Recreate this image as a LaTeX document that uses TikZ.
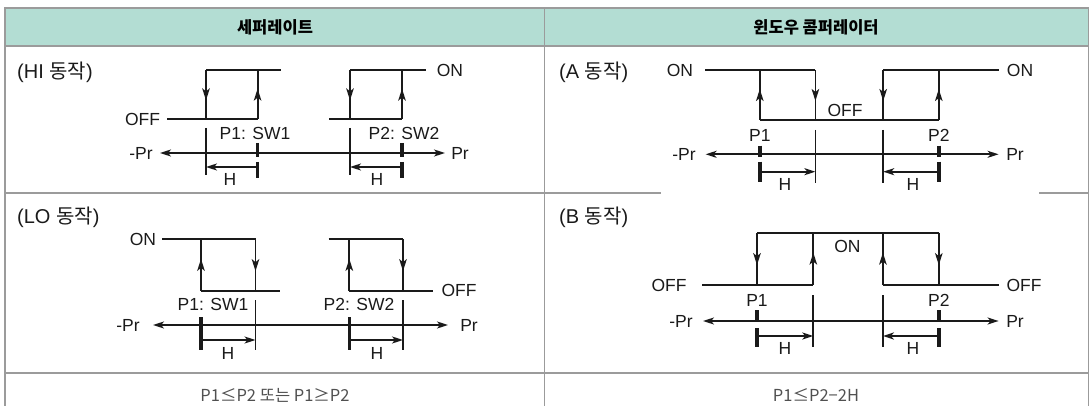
\documentclass[tikz,border=0pt]{standalone}
\usepackage{fontspec}
\setmainfont{Liberation Sans}
\newfontfamily\krfont{Noto Sans CJK KR}
\usetikzlibrary{arrows.meta, decorations.markings}
\definecolor{hdrteal}{HTML}{B3DDD3}
\definecolor{rulegray}{HTML}{9B9B9B}
\definecolor{ink}{HTML}{1A1A1A}
\definecolor{capgray}{HTML}{505050}

\begin{document}
\begin{tikzpicture}[
  x=1pt, y=-1pt,
  hyst/.tip={Stealth[length=11pt, width=7pt, inset=3pt]},
  midtip/.tip={Stealth[length=12pt, width=7.5pt, inset=3pt]},
  >=hyst,
  rule/.style={draw=rulegray, line width=1.4pt},
  hdr/.style={inner sep=0pt, font=\krfont\bfseries\fontsize{16.5}{19}\selectfont, text=black},
  ttl/.style={anchor=west, inner sep=0pt, font=\fontsize{20}{23}\selectfont, text=ink},
  lbl/.style={inner sep=0pt, font=\fontsize{17.5}{20}\selectfont, text=ink},
  captxt/.style={inner sep=0pt, font=\krfont\fontsize{16.5}{19}\selectfont, text=capgray},
  wire/.style={color=ink, line width=1.8pt},
  axis/.style={wire, <->},
  dim/.style={wire, ->},
  ptick/.style={color=ink, line width=3.5pt},
  flow/.style={wire, postaction={decorate},
    decoration={markings, mark=at position #1 with {\arrow{midtip}}}},
  flow/.default=0.62
]
  \useasboundingbox (0,0) rectangle (1090,406);

  \fill[hdrteal] (5,8) rectangle (1088.5,46);
  \draw[rule] (5,406) -- (5,8) -- (1088.5,8) -- (1088.5,406);
  \draw[rule] (5,46) -- (1088.5,46);
  \draw[rule] (544.5,8) -- (544.5,406);
  \draw[rule] (5,193) -- (661,193);
  \draw[rule] (1039,193) -- (1088.5,193);
  \draw[rule] (5,373) -- (1088.5,373);

  \node[hdr] (sephdr) at (275,27) {세퍼레이트};
  \node[hdr] (winhdr) at (816,27) {윈도우 콤퍼레이터};

  % HI
  \node[ttl] (hititle) at (17,72) {(HI {\krfont 동작})};
  \draw[wire] (167,119) -- (257.6,119);
  \draw[flow] (257.6,119) -- (257.6,70);
  \draw[wire] (206,70) -- (281,70);
  \draw[flow] (206,70) -- (206,119);
  \draw[wire] (329,119) -- (402,119);
  \draw[flow] (402,119) -- (402,70);
  \draw[wire] (350,70) -- (426,70);
  \draw[flow] (350,70) -- (350,119);
  \draw[axis] (160,153) -- (445,153);
  \draw[wire] (206,128) -- (206,175);
  \draw[wire] (350,128) -- (350,175);
  \draw[ptick] (257.6,143) -- (257.6,157) (257.6,162) -- (257.6,178);
  \draw[ptick] (402,143) -- (402,157) (402,162) -- (402,178);
  \draw[dim] (257.6,167) -- (206,167);
  \draw[dim] (402,167) -- (350,167);
  \node[lbl] (hioff) at (142.5,119) {OFF};
  \node[lbl] (hion) at (450,70) {ON};
  \node[lbl] (hip1) at (255,133) {P1: SW1};
  \node[lbl] (hip2) at (404,133) {P2: SW2};
  \node[lbl] (hineg) at (141,153) {-Pr};
  \node[lbl] (hipos) at (460,153) {Pr};
  \node[lbl] (hih1) at (230,179) {H};
  \node[lbl] (hih2) at (377,179) {H};

  % LO
  \node[ttl] (lotitle) at (17,217) {(LO {\krfont 동작})};
  \draw[wire] (162,239.3) -- (255.5,239.3);
  \draw[flow] (255.5,239.3) -- (255.5,290.7);
  \draw[wire] (201,290.7) -- (280,290.7);
  \draw[flow] (201,290.7) -- (201,239.3);
  \draw[wire] (328.5,239.3) -- (403,239.3);
  \draw[flow] (403,239.3) -- (403,290.7);
  \draw[wire] (349.3,290.7) -- (432.7,290.7);
  \draw[flow] (349.3,290.7) -- (349.3,239.3);
  \draw[axis] (153,325) -- (448,325);
  \draw[wire] (255.5,300) -- (255.5,350);
  \draw[wire] (403,300) -- (403,350);
  \draw[ptick] (201,317) -- (201,350);
  \draw[ptick] (349.3,317) -- (349.3,350);
  \draw[dim] (201,340) -- (255.5,340);
  \draw[dim] (349.3,340) -- (403,340);
  \node[lbl] (loon) at (143,239.3) {ON};
  \node[lbl] (looff) at (459,290.7) {OFF};
  \node[lbl] (lop1) at (213,304) {P1: SW1};
  \node[lbl] (lop2) at (359,304) {P2: SW2};
  \node[lbl] (loneg) at (128,325) {-Pr};
  \node[lbl] (lopos) at (469,325) {Pr};
  \node[lbl] (loh1) at (228,353) {H};
  \node[lbl] (loh2) at (377,353) {H};

  % A
  \node[ttl] (atitle) at (559,72) {(A {\krfont 동작})};
  \draw[wire] (705,70) -- (815.4,70);
  \draw[flow] (815.4,70) -- (815.4,120);
  \draw[wire] (759.8,120) -- (938.8,120);
  \draw[flow] (759.8,120) -- (759.8,70);
  \draw[flow] (883.2,70) -- (883.2,120);
  \draw[wire] (883.2,70) -- (998.6,70);
  \draw[flow] (938.8,120) -- (938.8,70);
  \draw[axis] (705.6,154.3) -- (998.6,154.3);
  \draw[wire] (815.4,130) -- (815.4,183);
  \draw[wire] (883.2,130) -- (883.2,183);
  \draw[ptick] (759.8,145.7) -- (759.8,156.7) (759.8,161.7) -- (759.8,181.7);
  \draw[ptick] (938.8,145.7) -- (938.8,156.7) (938.8,161.7) -- (938.8,181.7);
  \draw[dim] (759.8,171.7) -- (815.4,171.7);
  \draw[dim] (938.8,171.7) -- (883.2,171.7);
  \node[lbl] (aonl) at (680,70) {ON};
  \node[lbl] (aonr) at (1020,70) {ON};
  \node[lbl] (aoff) at (845,110) {OFF};
  \node[lbl] (ap1) at (759.8,135) {P1};
  \node[lbl] (ap2) at (938.8,135) {P2};
  \node[lbl] (aneg) at (684,154.3) {-Pr};
  \node[lbl] (apos) at (1015,154.3) {Pr};
  \node[lbl] (ah1) at (785,184) {H};
  \node[lbl] (ah2) at (913,184) {H};

  % B
  \node[ttl] (btitle) at (559,217) {(B {\krfont 동작})};
  \draw[wire] (757,232.7) -- (938.8,232.7);
  \draw[flow] (757,232.7) -- (757,285);
  \draw[flow] (813.3,285) -- (813.3,232.7);
  \draw[flow] (882.9,285) -- (882.9,232.7);
  \draw[flow] (938.8,232.7) -- (938.8,285);
  \draw[wire] (702,285) -- (813.3,285);
  \draw[wire] (882.9,285) -- (998.6,285);
  \draw[axis] (703,321) -- (998.6,321);
  \draw[wire] (813.3,295) -- (813.3,347);
  \draw[wire] (882.9,295) -- (882.9,347);
  \draw[ptick] (757,310) -- (757,322) (757,328) -- (757,347);
  \draw[ptick] (938.8,310) -- (938.8,322) (938.8,328) -- (938.8,347);
  \draw[dim] (757,336) -- (813.3,336);
  \draw[dim] (938.8,336) -- (882.9,336);
  \node[lbl] (boffl) at (669,285) {OFF};
  \node[lbl] (boffr) at (1024,285) {OFF};
  \node[lbl] (bon) at (847.5,246.7) {ON};
  \node[lbl] (bp1) at (757,300) {P1};
  \node[lbl] (bp2) at (938.8,300) {P2};
  \node[lbl] (bneg) at (681,321) {-Pr};
  \node[lbl] (bpos) at (1015,321) {Pr};
  \node[lbl] (bh1) at (785,348) {H};
  \node[lbl] (bh2) at (913,348) {H};

  \node[captxt] (sepcap) at (275,395) {P1≤P2 또는 P1≥P2};
  \node[captxt] (wincap) at (816,395) {P1≤P2−2H};
\end{tikzpicture}
\end{document}
